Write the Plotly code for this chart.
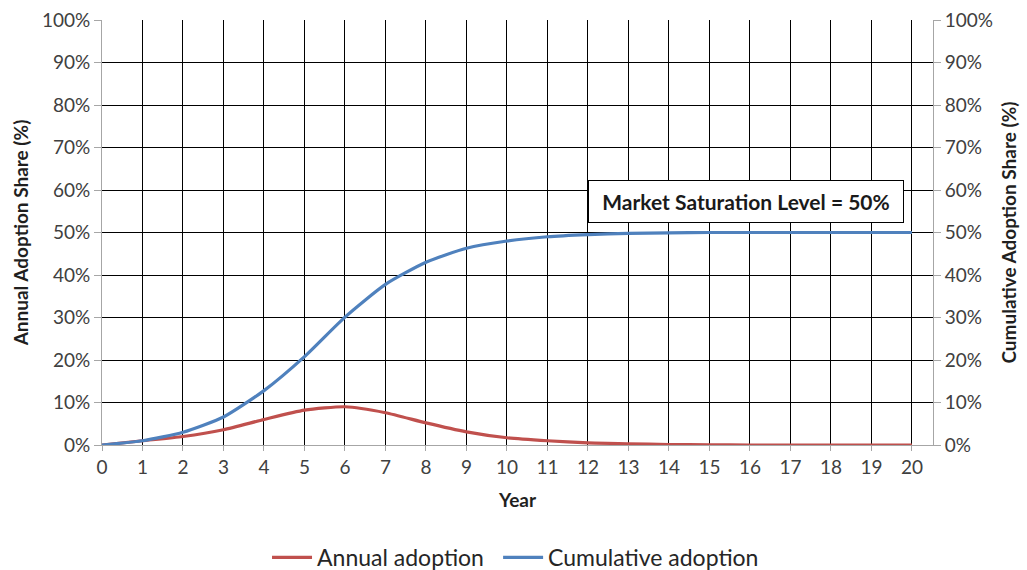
import plotly.graph_objects as go

years = list(range(0, 21))
annual = [0.0, 0.010, 0.020, 0.036, 0.060, 0.082, 0.090, 0.076, 0.052, 0.031,
          0.017, 0.010, 0.005, 0.003, 0.001, 0.0005, 0.0, 0.0, 0.0, 0.0, 0.0]
cumulative = [0.0, 0.010, 0.030, 0.066, 0.128, 0.208, 0.301, 0.378, 0.430, 0.463,
              0.480, 0.490, 0.495, 0.498, 0.499, 0.500, 0.500, 0.500, 0.500, 0.500, 0.500]
pct_ticks = [i / 10 for i in range(11)]
pct_labels = [f"{i * 10}%" for i in range(11)]

RED = "#C0504D"
BLUE = "#4F81BD"
FONT = "Lato, 'Open Sans', sans-serif"
TICK_COLOR = "#404040"
TITLE_COLOR = "#1f1f1f"

fig = go.Figure()
fig.add_trace(go.Scatter(x=years, y=annual, name="Annual adoption", mode="lines",
                         legend="legend",
                         line=dict(color=RED, width=3.2, shape="spline", smoothing=0.6)))
fig.add_trace(go.Scatter(x=years, y=cumulative, name="Cumulative adoption", mode="lines",
                         yaxis="y2", legend="legend2",
                         line=dict(color=BLUE, width=3.2, shape="spline", smoothing=0.6)))

legend_common = dict(orientation="h", xanchor="left", xref="container",
                     y=0.022, yanchor="middle", yref="container",
                     font=dict(size=23, color="#262626"), itemwidth=40)

fig.update_layout(
    width=1027, height=570,
    margin=dict(l=102, r=94, t=20, b=125, autoexpand=False),
    plot_bgcolor="white", paper_bgcolor="white",
    font=dict(family=FONT, size=19, color=TICK_COLOR),
    xaxis=dict(
        range=[0, 20.52], tickvals=years, ticktext=[str(y) for y in years],
        showgrid=True, gridcolor="black", gridwidth=1,
        showline=True, linecolor="#A6A6A6", linewidth=1,
        ticks="outside", ticklen=5, tickcolor="#A6A6A6",
        title=dict(text="<b>Year</b>", font=dict(size=19, color=TITLE_COLOR), standoff=16),
        zeroline=False, tickfont=dict(size=19, color=TICK_COLOR),
    ),
    yaxis=dict(
        range=[0, 1], tickvals=pct_ticks, ticktext=pct_labels,
        showgrid=True, gridcolor="black", gridwidth=1,
        showline=True, linecolor="#A6A6A6", linewidth=1,
        ticks="outside", ticklen=7, tickcolor="#A6A6A6",
        title=dict(text="<b>Annual Adoption Share (%)</b>", font=dict(size=19, color=TITLE_COLOR),
                   standoff=8),
        zeroline=False, tickfont=dict(size=19, color=TICK_COLOR),
    ),
    yaxis2=dict(
        range=[0, 1], tickvals=pct_ticks, ticktext=pct_labels,
        overlaying="y", side="right", showgrid=False,
        showline=True, linecolor="#A6A6A6", linewidth=1,
        ticks="outside", ticklen=7, tickcolor="#A6A6A6",
        title=dict(text="<b>Cumulative Adoption Share (%)</b>", font=dict(size=19, color=TITLE_COLOR),
                   standoff=10),
        zeroline=False, tickfont=dict(size=19, color=TICK_COLOR),
    ),
    legend=dict(x=0.260, **legend_common),
    legend2=dict(x=0.485, **legend_common),
    showlegend=True,
    annotations=[dict(
        x=12, y=0.572, xref="x", yref="y", xanchor="left", yanchor="middle",
        text="<b>Market Saturation Level = 50%</b>", showarrow=False,
        font=dict(size=21, color="#1a1a1a"),
        bgcolor="white", bordercolor="black", borderwidth=1,
        width=312, height=39,
    )],
)

fig.write_html("out.html")
